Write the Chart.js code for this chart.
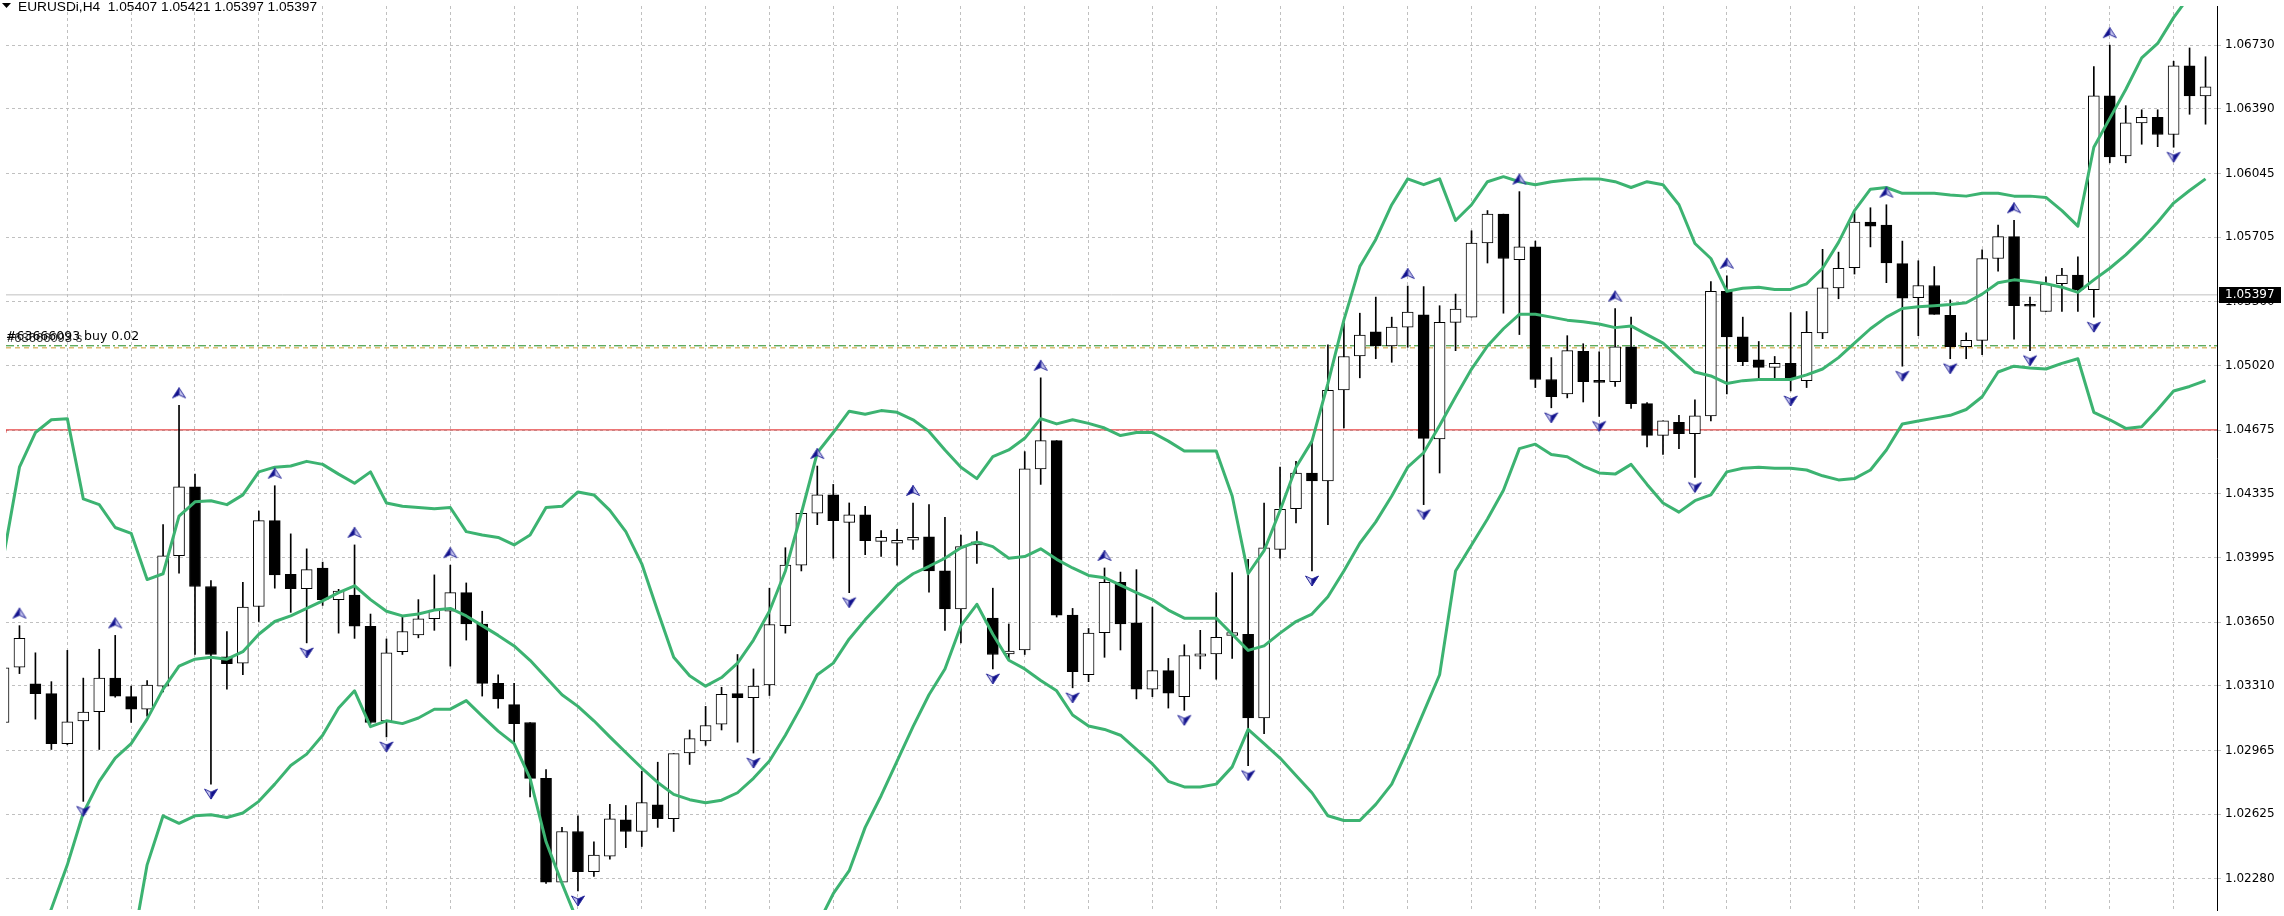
<!DOCTYPE html>
<html>
<head>
<meta charset="utf-8">
<title>EURUSDi,H4</title>
<script src="https://cdn.jsdelivr.net/npm/chart.js@4.4.1/dist/chart.umd.min.js"></script>
<style>
	html, body { margin: 0; padding: 0; background: #ffffff; overflow: hidden; }
	#chart { display: block; }
</style>
</head>
<body>
<canvas id="chart" width="2284" height="916"></canvas>
<script>

// bar numbers run from firstBar upward, one value per H4 bar
var firstBar = -1;

var opens = [
	1.03114, 1.03409, 1.03320, 1.03268, 1.03001, 1.03123, 1.03172, 1.03351, 1.03252, 1.03185,
	1.03308, 1.04004, 1.04372, 1.03840, 1.03465, 1.03431, 1.03733, 1.04192, 1.03905, 1.03828,
	1.03939, 1.03770, 1.03794, 1.03628, 1.03123, 1.03492, 1.03582, 1.03668, 1.03708, 1.03807,
	1.03640, 1.03323, 1.03209, 1.03114, 1.02816, 1.02261, 1.02532, 1.02317, 1.02400, 1.02594,
	1.02532, 1.02674, 1.02600, 1.02951, 1.03015, 1.03105, 1.03268, 1.03246, 1.03314, 1.03631,
	1.03954, 1.04231, 1.04329, 1.04182, 1.04222, 1.04081, 1.04071, 1.04087, 1.04105, 1.03923,
	1.03720, 1.04062, 1.03671, 1.03480, 1.03501, 1.04468, 1.04619, 1.03687, 1.03369, 1.03594,
	1.03862, 1.03646, 1.03292, 1.03391, 1.03252, 1.03468, 1.03480, 1.03579, 1.03585, 1.03138,
	1.04038, 1.04255, 1.04446, 1.04403, 1.04890, 1.05071, 1.05200, 1.05124, 1.05225, 1.05290,
	1.04628, 1.05250, 1.05278, 1.05674, 1.05828, 1.05585, 1.05653, 1.04945, 1.04868, 1.05096,
	1.04939, 1.04933, 1.05120, 1.04816, 1.04647, 1.04717, 1.04656, 1.04751, 1.05416, 1.05173,
	1.05050, 1.05010, 1.05031, 1.04939, 1.05194, 1.05434, 1.05542, 1.05785, 1.05770, 1.05564,
	1.05382, 1.05447, 1.05287, 1.05120, 1.05154, 1.05591, 1.05708, 1.05339, 1.05308, 1.05456,
	1.05502, 1.05425, 1.06459, 1.06139, 1.06315, 1.06345, 1.06253, 1.06619, 1.06459
];
var highs = [
	1.03554, 1.03631, 1.03486, 1.03332, 1.03499, 1.03351, 1.03505, 1.03579, 1.03308, 1.03338,
	1.04170, 1.04807, 1.04440, 1.03871, 1.03600, 1.03862, 1.04243, 1.04378, 1.04121, 1.04041,
	1.03970, 1.03825, 1.04062, 1.03693, 1.03560, 1.03677, 1.03770, 1.03902, 1.03954, 1.03859,
	1.03708, 1.03369, 1.03323, 1.03114, 1.02862, 1.02554, 1.02616, 1.02477, 1.02677, 1.02671,
	1.02853, 1.02902, 1.02948, 1.03074, 1.03200, 1.03302, 1.03477, 1.03400, 1.03831, 1.04047,
	1.04243, 1.04483, 1.04385, 1.04286, 1.04268, 1.04139, 1.04145, 1.04286, 1.04277, 1.04209,
	1.04115, 1.04133, 1.03831, 1.03640, 1.04560, 1.04954, 1.04619, 1.03723, 1.03616, 1.03939,
	1.03917, 1.03930, 1.03730, 1.03456, 1.03529, 1.03606, 1.03807, 1.03914, 1.03985, 1.04286,
	1.04477, 1.04508, 1.04616, 1.05130, 1.05247, 1.05299, 1.05385, 1.05278, 1.05444, 1.05441,
	1.05339, 1.05401, 1.05739, 1.05847, 1.05828, 1.05948, 1.05684, 1.05062, 1.05179, 1.05136,
	1.05093, 1.05324, 1.05278, 1.04822, 1.04724, 1.04754, 1.04837, 1.05468, 1.05499, 1.05278,
	1.05148, 1.05068, 1.05302, 1.05308, 1.05640, 1.05625, 1.05838, 1.05862, 1.05878, 1.05684,
	1.05579, 1.05548, 1.05370, 1.05194, 1.05637, 1.05770, 1.05795, 1.05385, 1.05493, 1.05539,
	1.05600, 1.06616, 1.06730, 1.06407, 1.06385, 1.06385, 1.06644, 1.06715, 1.06668
];
var lows = [
	1.02970, 1.03375, 1.03132, 1.02970, 1.02995, 1.02693, 1.02970, 1.03249, 1.03114, 1.03148,
	1.03277, 1.03911, 1.03477, 1.02785, 1.03292, 1.03369, 1.03653, 1.03831, 1.03702, 1.03539,
	1.03739, 1.03591, 1.03563, 1.03108, 1.03037, 1.03477, 1.03566, 1.03606, 1.03415, 1.03554,
	1.03255, 1.03191, 1.03007, 1.02717, 1.02255, 1.02255, 1.02215, 1.02292, 1.02385, 1.02446,
	1.02452, 1.02554, 1.02532, 1.02890, 1.02992, 1.03074, 1.03009, 1.02951, 1.03258, 1.03591,
	1.03923, 1.04170, 1.03991, 1.03807, 1.04010, 1.04000, 1.03954, 1.04038, 1.03810, 1.03606,
	1.03539, 1.03963, 1.03400, 1.03446, 1.03477, 1.04385, 1.03677, 1.03299, 1.03332, 1.03462,
	1.03501, 1.03240, 1.03252, 1.03191, 1.03179, 1.03400, 1.03345, 1.03456, 1.02884, 1.03055,
	1.03991, 1.04179, 1.03923, 1.04170, 1.04687, 1.04954, 1.05056, 1.05037, 1.05117, 1.04277,
	1.04446, 1.05099, 1.05278, 1.05567, 1.05299, 1.05185, 1.04902, 1.04794, 1.04847, 1.04825,
	1.04748, 1.04908, 1.04791, 1.04585, 1.04545, 1.04576, 1.04422, 1.04724, 1.04868, 1.05019,
	1.04954, 1.04945, 1.04884, 1.04902, 1.05163, 1.05376, 1.05508, 1.05653, 1.05462, 1.05016,
	1.05179, 1.05293, 1.05056, 1.05056, 1.05077, 1.05524, 1.05160, 1.05099, 1.05308, 1.05308,
	1.05308, 1.05278, 1.06102, 1.06102, 1.06201, 1.06188, 1.06185, 1.06361, 1.06308
];
var closes = [
	1.03406, 1.03563, 1.03268, 1.03001, 1.03117, 1.03169, 1.03351, 1.03255, 1.03185, 1.03314,
	1.04004, 1.04372, 1.03840, 1.03477, 1.03428, 1.03730, 1.04192, 1.03902, 1.03828, 1.03930,
	1.03770, 1.03816, 1.03628, 1.03114, 1.03486, 1.03600, 1.03668, 1.03714, 1.03807, 1.03640,
	1.03323, 1.03240, 1.03108, 1.02816, 1.02261, 1.02532, 1.02317, 1.02406, 1.02600, 1.02532,
	1.02686, 1.02600, 1.02948, 1.03028, 1.03098, 1.03265, 1.03246, 1.03308, 1.03637, 1.03954,
	1.04231, 1.04329, 1.04192, 1.04222, 1.04084, 1.04102, 1.04087, 1.04102, 1.03923, 1.03720,
	1.04053, 1.04078, 1.03477, 1.03495, 1.04468, 1.04619, 1.03687, 1.03385, 1.03591, 1.03862,
	1.03640, 1.03292, 1.03391, 1.03271, 1.03471, 1.03480, 1.03569, 1.03594, 1.03138, 1.04047,
	1.04252, 1.04446, 1.04403, 1.04887, 1.05068, 1.05182, 1.05124, 1.05225, 1.05305, 1.04631,
	1.05250, 1.05321, 1.05674, 1.05828, 1.05591, 1.05653, 1.04945, 1.04853, 1.05099, 1.04933,
	1.04930, 1.05120, 1.04816, 1.04647, 1.04724, 1.04656, 1.04751, 1.05416, 1.05173, 1.05040,
	1.05010, 1.05031, 1.04951, 1.05197, 1.05434, 1.05539, 1.05785, 1.05764, 1.05567, 1.05379,
	1.05447, 1.05293, 1.05120, 1.05154, 1.05591, 1.05708, 1.05339, 1.05336, 1.05453, 1.05502,
	1.05425, 1.06459, 1.06133, 1.06315, 1.06345, 1.06253, 1.06619, 1.06459, 1.06508
];

// bollinger bands (values below the window are guesses)
var bbUpper = [
	1.03998, 1.04477, 1.04662, 1.04730, 1.04736, 1.04308, 1.04277, 1.04155, 1.04124, 1.03877,
	1.03908, 1.04216, 1.04292, 1.04298, 1.04277, 1.04329, 1.04452, 1.04477, 1.04483, 1.04508,
	1.04492, 1.04440, 1.04391, 1.04452, 1.04286, 1.04268, 1.04262, 1.04255, 1.04262, 1.04133,
	1.04115, 1.04102, 1.04062, 1.04115, 1.04262, 1.04268, 1.04345, 1.04329, 1.04246, 1.04133,
	1.03961, 1.03708, 1.03462, 1.03363, 1.03308, 1.03354, 1.03431, 1.03554, 1.03708, 1.03923,
	1.04231, 1.04554, 1.04662, 1.04776, 1.04760, 1.04779, 1.04770, 1.04730, 1.04668, 1.04569,
	1.04477, 1.04416, 1.04533, 1.04569, 1.04631, 1.04736, 1.04708, 1.04730, 1.04711, 1.04686,
	1.04646, 1.04662, 1.04662, 1.04616, 1.04563, 1.04563, 1.04563, 1.04323, 1.03908, 1.04031,
	1.04246, 1.04477, 1.04616, 1.04924, 1.05262, 1.05548, 1.05693, 1.05878, 1.06016, 1.05985,
	1.06016, 1.05794, 1.05878, 1.06001, 1.06028, 1.06001, 1.05985, 1.06001, 1.06010, 1.06016,
	1.06016, 1.06001, 1.05970, 1.06001, 1.05985, 1.05878, 1.05671, 1.05591, 1.05416, 1.05432,
	1.05438, 1.05426, 1.05426, 1.05456, 1.05539, 1.05677, 1.05847, 1.05961, 1.05970, 1.05939,
	1.05939, 1.05939, 1.05930, 1.05924, 1.05939, 1.05939, 1.05924, 1.05924, 1.05917, 1.05847,
	1.05764, 1.06185, 1.06339, 1.06493, 1.06662, 1.06739, 1.06877, 1.06994, 1.07093
];
var bbMiddle = [
	1.01431, 1.01659, 1.01889, 1.02120, 1.02354, 1.02631, 1.02800, 1.02924, 1.03001, 1.03132,
	1.03292, 1.03415, 1.03452, 1.03462, 1.03452, 1.03492, 1.03585, 1.03653, 1.03683, 1.03723,
	1.03763, 1.03807, 1.03844, 1.03770, 1.03708, 1.03683, 1.03693, 1.03714, 1.03723, 1.03683,
	1.03631, 1.03579, 1.03523, 1.03446, 1.03354, 1.03262, 1.03200, 1.03123, 1.03037, 1.02954,
	1.02871, 1.02794, 1.02730, 1.02702, 1.02686, 1.02699, 1.02739, 1.02816, 1.02908, 1.03046,
	1.03200, 1.03369, 1.03431, 1.03560, 1.03662, 1.03754, 1.03847, 1.03908, 1.03948, 1.03991,
	1.04047, 1.04078, 1.04053, 1.03991, 1.04000, 1.04041, 1.03985, 1.03939, 1.03899, 1.03887,
	1.03847, 1.03807, 1.03770, 1.03714, 1.03671, 1.03671, 1.03671, 1.03585, 1.03499, 1.03523,
	1.03591, 1.03653, 1.03693, 1.03785, 1.03923, 1.04071, 1.04185, 1.04323, 1.04477, 1.04554,
	1.04699, 1.04853, 1.05001, 1.05124, 1.05216, 1.05293, 1.05293, 1.05278, 1.05262, 1.05253,
	1.05241, 1.05222, 1.05231, 1.05185, 1.05139, 1.05062, 1.04985, 1.04964, 1.04924, 1.04939,
	1.04945, 1.04945, 1.04945, 1.04970, 1.05001, 1.05062, 1.05139, 1.05216, 1.05278, 1.05324,
	1.05333, 1.05339, 1.05345, 1.05355, 1.05401, 1.05462, 1.05477, 1.05468, 1.05456, 1.05438,
	1.05410, 1.05477, 1.05539, 1.05610, 1.05693, 1.05785, 1.05887, 1.05954, 1.06016
];
var bbLower = [
	0.98864, 0.98839, 0.99116, 0.99510, 0.99972, 1.00954, 1.01323, 1.01692, 1.01877, 1.02354,
	1.02616, 1.02576, 1.02616, 1.02622, 1.02607, 1.02631, 1.02693, 1.02785, 1.02884, 1.02945,
	1.03046, 1.03191, 1.03283, 1.03092, 1.03123, 1.03108, 1.03138, 1.03185, 1.03185, 1.03231,
	1.03148, 1.03068, 1.03001, 1.02816, 1.02477, 1.02255, 1.02046, 1.01954, 1.01861, 1.01800,
	1.01769, 1.01800, 1.01861, 1.01892, 1.01923, 1.01938, 1.01954, 1.01969, 1.01985, 1.02000,
	1.02015, 1.02031, 1.02200, 1.02323, 1.02554, 1.02723, 1.02908, 1.03092, 1.03262, 1.03400,
	1.03631, 1.03745, 1.03585, 1.03446, 1.03400, 1.03338, 1.03283, 1.03154, 1.03095, 1.03077,
	1.03046, 1.02970, 1.02893, 1.02800, 1.02770, 1.02770, 1.02785, 1.02877, 1.03077, 1.03001,
	1.02924, 1.02831, 1.02739, 1.02616, 1.02591, 1.02591, 1.02677, 1.02785, 1.02970, 1.03169,
	1.03369, 1.03923, 1.04062, 1.04200, 1.04354, 1.04576, 1.04600, 1.04545, 1.04533, 1.04483,
	1.04446, 1.04440, 1.04492, 1.04385, 1.04286, 1.04237, 1.04298, 1.04329, 1.04452, 1.04471,
	1.04477, 1.04471, 1.04471, 1.04462, 1.04431, 1.04409, 1.04416, 1.04462, 1.04569, 1.04708,
	1.04723, 1.04739, 1.04754, 1.04785, 1.04853, 1.04985, 1.05016, 1.05007, 1.05001, 1.05031,
	1.05056, 1.04770, 1.04730, 1.04684, 1.04693, 1.04785, 1.04884, 1.04908, 1.04939
];

// bars carrying a fractal arrow
var fractalUpBars = [0, 6, 10, 16, 21, 27, 50, 56, 64, 68, 87, 94, 100, 107, 117, 125, 131];
var fractalDownBars = [4, 12, 18, 23, 35, 46, 52, 61, 66, 73, 77, 81, 88, 96, 99, 105, 111, 118, 121, 126, 130, 135];

// price axis labels
var priceTicks = [1.02280, 1.02625, 1.02965, 1.03310, 1.03650, 1.03995, 1.04335,
	1.04675, 1.05020, 1.05360, 1.05705, 1.06045, 1.06390, 1.06730];

// header and trade levels
var symbolName = 'EURUSDi,H4';
var headerQuote = [1.05407, 1.05421, 1.05397, 1.05397];
var bidPrice = 1.05397;
var orderText = '#63666093 buy 0.02';
var orderShadowText = '#63666093 s';
var orderPrice = 1.05125;
var stopPrice = 1.05114;
var redLinePrices = [1.04661, 1.04676];
var redLineBreakBar = 40.6;

var chartView = ( function () {

	var X_MIN = -0.84375;
	var X_MAX = 137.71875;
	var GRID = '#c0c0c0';
	var BAND = '#3cb371';

	function barNo(i) {
		return firstBar + i;
	}

	function makeArrow(up) {
		// MT4 style fractal arrowhead, drawn off-centre so it sits clear of the wick
		var c = document.createElement('canvas');
		c.width = 16;
		c.height = 44;
		var g = c.getContext('2d');
		var cy = up ? 22 - 12.5 : 22 + 10;
		var s = up ? 1 : -1;
		var tip = [8, cy - 5 * s], notch = [8, cy + 2 * s];
		var left = [1.5, cy + 5 * s], right = [14.5, cy + 5 * s];
		g.lineWidth = 1;
		g.beginPath();
		g.moveTo(tip[0], tip[1]); g.lineTo(notch[0], notch[1]); g.lineTo(left[0], left[1]);
		g.closePath();
		g.fillStyle = up ? '#10108c' : '#c4c4ee';
		g.fill();
		g.strokeStyle = '#2a2a9a';
		g.stroke();
		g.beginPath();
		g.moveTo(tip[0], tip[1]); g.lineTo(right[0], right[1]); g.lineTo(notch[0], notch[1]);
		g.closePath();
		g.fillStyle = up ? '#c4c4ee' : '#10108c';
		g.fill();
		g.stroke();
		return c;
	}

	function flatLine(price, color, dash, order) {
		return {
			type: 'line',
			data: [{ x: X_MIN, y: price }, { x: X_MAX, y: price }],
			borderColor: color,
			borderWidth: 1,
			borderDash: dash,
			pointRadius: 0,
			order: order
		};
	}

	var overlay = {
		id: 'mt4Overlay',
		afterDraw: function (chart) {
			var ctx = chart.ctx;
			var area = chart.chartArea;
			var py = chart.scales.y.getPixelForValue(bidPrice);
			ctx.save();

			// symbol header
			ctx.fillStyle = '#000000';
			ctx.beginPath();
			ctx.moveTo(2, 3); ctx.lineTo(11, 3); ctx.lineTo(6.5, 8);
			ctx.closePath();
			ctx.fill();
			ctx.font = '13.7px "Liberation Sans"';
			ctx.textBaseline = 'alphabetic';
			var quote = headerQuote.map(function (q) { return q.toFixed(5); }).join(' ');
			ctx.fillText(symbolName + '  ' + quote, 18, 11);

			// order label, two texts piled on each other as in the terminal
			var oy = chart.scales.y.getPixelForValue(orderPrice);
			ctx.fillStyle = '#303030';
			ctx.font = '13px "Liberation Sans"';
			ctx.fillText(orderShadowText, 7, oy - 4);
			ctx.fillStyle = '#000000';
			ctx.font = '12.5px "DejaVu Sans"';
			ctx.fillText(orderText, 6, oy - 6);

			// bid box on the price scale
			ctx.fillStyle = '#000000';
			ctx.fillRect(area.right + 2, Math.round(py) - 8, 62, 16);
			ctx.fillStyle = '#ffffff';
			ctx.font = '12px "DejaVu Sans"';
			ctx.textBaseline = 'middle';
			ctx.fillText(bidPrice.toFixed(5), area.right + 8, py + 0.5);
			ctx.restore();
		}
	};

	function publicDraw() {
		var bars = opens.map(function (o, i) { return barNo(i); });

		var wicks = bars.map(function (b, i) { return { x: b, y: [lows[i], highs[i]] }; });
		var bodies = bars.map(function (b, i) {
			return { x: b, y: [Math.min(opens[i], closes[i]), Math.max(opens[i], closes[i])] };
		});
		var bodyFill = bars.map(function (b, i) { return closes[i] >= opens[i] ? '#ffffff' : '#000000'; });

		function band(values) {
			return values.map(function (v, i) { return { x: barNo(i), y: v }; });
		}
		function fractals(list, source) {
			return list.map(function (b) { return { x: b, y: source[b - firstBar] }; });
		}

		var datasets = [
			{
				type: 'scatter', data: fractals(fractalUpBars, highs),
				pointStyle: makeArrow(true), pointRadius: 5, order: 0
			},
			{
				type: 'scatter', data: fractals(fractalDownBars, lows),
				pointStyle: makeArrow(false), pointRadius: 5, order: 0
			},
			{ type: 'line', data: band(bbUpper), borderColor: BAND, borderWidth: 3, pointRadius: 0, borderJoinStyle: 'round', order: 1 },
			{ type: 'line', data: band(bbMiddle), borderColor: BAND, borderWidth: 3, pointRadius: 0, borderJoinStyle: 'round', order: 1 },
			{ type: 'line', data: band(bbLower), borderColor: BAND, borderWidth: 3, pointRadius: 0, borderJoinStyle: 'round', order: 1 },
			{
				type: 'bar', data: bodies, backgroundColor: bodyFill, borderColor: '#000000',
				borderWidth: 1, borderSkipped: false, barThickness: 11, minBarLength: 2,
				grouped: false, order: 2
			},
			{
				type: 'bar', data: wicks, backgroundColor: '#000000', borderWidth: 0,
				barThickness: 1, grouped: false, order: 3
			},
			{
				type: 'line',
				data: [{ x: X_MIN, y: redLinePrices[0] }, { x: redLineBreakBar, y: redLinePrices[1] }, { x: X_MAX, y: redLinePrices[1] }],
				stepped: 'after', borderColor: '#e02020', borderWidth: 1, pointRadius: 0, order: 4
			},
			flatLine(orderPrice, '#1f8a1f', [8, 3, 2, 3], 4),
			flatLine(stopPrice, '#d09a30', [5, 4], 4),
			flatLine(bidPrice, '#c0c0c0', [], 4)
		];

		return new Chart(document.getElementById('chart'), {
			type: 'bar',
			data: { datasets: datasets },
			options: {
				responsive: false,
				animation: false,
				devicePixelRatio: 1,
				layout: { padding: 0 },
				plugins: { legend: { display: false }, tooltip: { enabled: false } },
				scales: {
					x: {
						type: 'linear',
						min: X_MIN,
						max: X_MAX,
						offset: false,
						grid: { color: GRID, lineWidth: 1, offset: false, drawTicks: false },
						border: { display: false, dash: [3, 3] },
						ticks: { display: false },
						afterBuildTicks: function (scale) {
							var t = [];
							for (var b = 3; b <= X_MAX; b += 4) t.push({ value: b });
							scale.ticks = t;
						},
						afterFit: function (scale) {
							scale.height = 0;
							scale.paddingLeft = 0;
							scale.paddingRight = 0;
						}
					},
					y: {
						type: 'linear',
						position: 'right',
						min: 1.02113,
						max: 1.06939,
						beginAtZero: false,
						grid: { color: GRID, lineWidth: 1, tickLength: 4 },
						border: { display: true, color: '#000000', width: 1, dash: [3, 3] },
						ticks: {
							autoSkip: false,
							padding: 4,
							color: '#000000',
							font: { family: 'DejaVu Sans', size: 12 },
							callback: function (v) { return Number(v).toFixed(5); }
						},
						afterBuildTicks: function (scale) {
							scale.ticks = priceTicks.map(function (v) { return { value: v }; });
						},
						afterFit: function (scale) {
							scale.width = 67;
							scale.paddingTop = 0;
							scale.paddingBottom = 0;
						}
					}
				}
			},
			plugins: [overlay]
		});
	}

	return {
		draw: publicDraw
	};

})();

chartView.draw();
</script>
</body>
</html>
